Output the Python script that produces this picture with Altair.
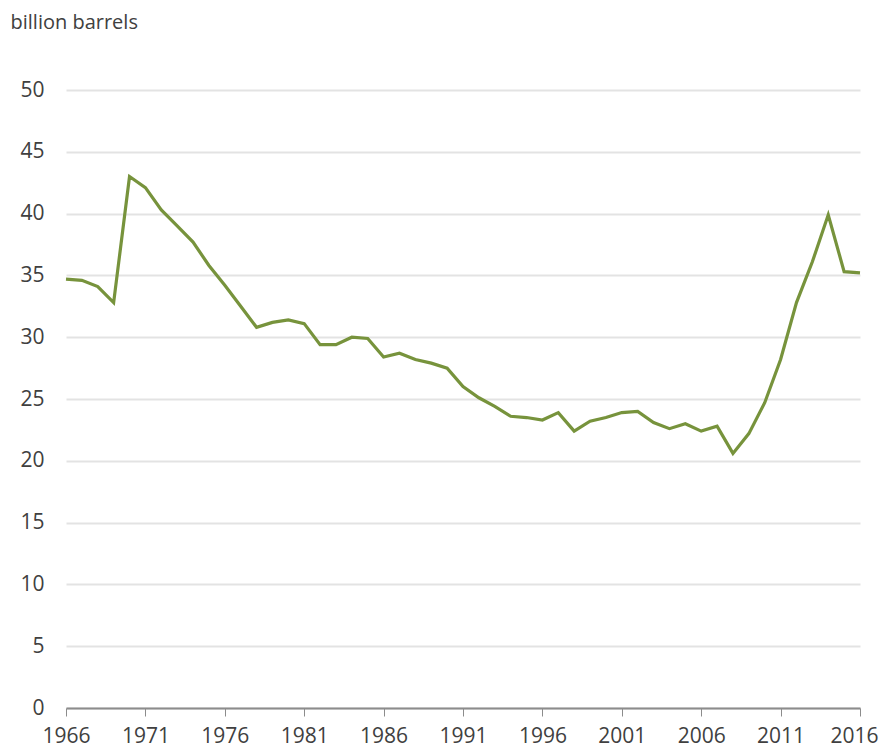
import altair as alt
import pandas as pd

years = list(range(1966, 2017))
values = [34.7, 34.6, 34.1, 32.8, 43.0, 42.1, 40.3, 39.0, 37.7, 35.8,
          34.2, 32.5, 30.8, 31.2, 31.4, 31.1, 29.4, 29.4, 30.0, 29.9,
          28.4, 28.7, 28.2, 27.9, 27.5, 26.0, 25.1, 24.4, 23.6, 23.5,
          23.3, 23.9, 22.4, 23.2, 23.5, 23.9, 24.0, 23.1, 22.6, 23.0,
          22.4, 22.8, 20.6, 22.2, 24.7, 28.2, 32.8, 36.1, 39.9, 35.3,
          35.2]
x_ticks = [1966, 1971, 1976, 1981, 1986, 1991, 1996, 2001, 2006, 2011, 2016]
y_ticks = [0, 5, 10, 15, 20, 25, 30, 35, 40, 45, 50]

df = pd.DataFrame({"year": years, "value": values})

font = "Open Sans"

chart = alt.Chart(df).mark_line(color="#77933C", strokeWidth=3.2).encode(
    x=alt.X("year:Q",
            scale=alt.Scale(domain=[1966, 2016], nice=False, zero=False),
            axis=alt.Axis(values=x_ticks, format="d", title=None, grid=False,
                          domain=True, domainColor="#8c8c8c", domainWidth=2,
                          ticks=True, tickColor="#8c8c8c", tickSize=8, tickWidth=1,
                          labelFont=font, labelFontSize=21, labelColor="#404040",
                          labelPadding=9, labelFlush=False,
                          labelOffset={"condition": {"test": "datum.value >= 2016", "value": -6},
                                       "value": 0})),
    y=alt.Y("value:Q",
            scale=alt.Scale(domain=[0, 50], nice=False),
            axis=alt.Axis(values=y_ticks, title="billion barrels", titleAngle=0,
                          titleX=-56, titleY=-62, titleAlign="left",
                          titleBaseline="alphabetic",
                          titleFont=font, titleFontSize=20, titleFontWeight="normal",
                          titleColor="#404040",
                          grid=True, gridColor="#e3e3e3", gridWidth=2,
                          domain=False, ticks=False,
                          labelFont=font, labelFontSize=21, labelColor="#404040",
                          labelPadding=22)),
).properties(
    width=794,
    height=618,
    autosize=alt.AutoSizeParams(type="none"),
    padding={"left": 58, "top": 82, "right": 21, "bottom": 44},
).configure_view(stroke=None)

chart.save("out.html", embed_options={"renderer": "svg", "actions": False})
